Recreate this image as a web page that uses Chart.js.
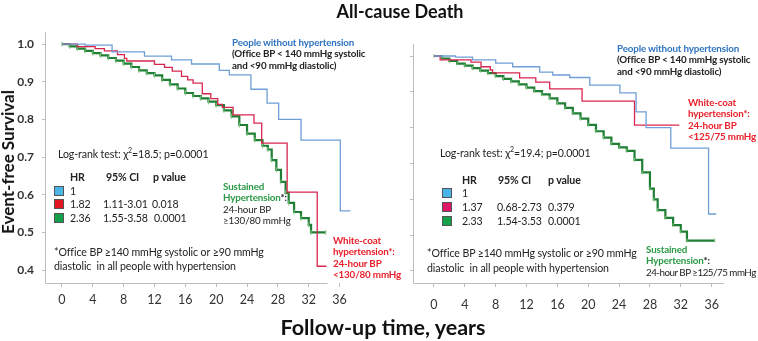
<!DOCTYPE html>
<html>
<head>
<meta charset="utf-8">
<script src="https://cdn.jsdelivr.net/npm/chart.js@4.4.1/dist/chart.umd.min.js"></script>
<style>
  body { margin: 0; background: #fff; }
  #wrap { position: relative; width: 758px; height: 341px; overflow: hidden;
          font-family: Lato, "Open Sans", sans-serif; color: #222; }
  canvas { position: absolute; top: 0; }
  .t { position: absolute; white-space: nowrap; }
  .sm { font-size: 9.8px; line-height: 11.3px; font-weight: bold; letter-spacing: -0.15px; }
  .blue { color: #2f74c0; }
  .red { color: #e8202a; }
  .green { color: #2a9a46; }
  .blk { color: #222; }
  .reg { font-weight: normal; }
  .txt { font-size: 10.6px; line-height: 13px; color: #222; letter-spacing: -0.1px; }
  .hd { font-weight: bold; }
  .sq { position: absolute; width: 8px; height: 8px; border: 1px solid #555; }
</style>
</head>
<body>
<div id="wrap">
  <canvas id="leftChart" width="380" height="341" style="left:0;width:380px;height:341px"></canvas>
  <canvas id="rightChart" width="378" height="341" style="left:380px;width:378px;height:341px"></canvas>

  <div class="t" style="left:0;width:800px;text-align:center;top:0;font-size:18px;line-height:22px;font-weight:bold;color:#111">All-cause Death</div>
  <div class="t" style="left:0;width:766px;text-align:center;top:313px;font-size:21.5px;line-height:28px;font-weight:bold;color:#111">Follow-up time, years</div>
  <div class="t" style="left:8px;top:162px;transform:translate(-50%,-50%) rotate(-90deg);font-size:17px;line-height:20px;font-weight:bold;color:#111">Event-free Survival</div>

  <!-- left panel annotations -->
  <div class="t sm" style="left:232px;top:37px">
    <div class="blue">People without hypertension</div>
    <div class="blk">(Office BP &lt; 140 mmHg systolic</div>
    <div class="blk">and &lt;90 mmHg diastolic)</div>
  </div>
  <div class="t txt" style="left:58px;top:148px">Log-rank test: χ<sup style="font-size:7px;line-height:0">2</sup>=18.5; p=0.0001</div>
  <div class="t txt hd" style="left:70px;top:171px">HR</div>
  <div class="t txt hd" style="left:106px;top:171px">95% CI</div>
  <div class="t txt hd" style="left:153px;top:171px">p value</div>
  <div class="sq" style="left:54px;top:186px;background:#4bb4e6"></div>
  <div class="sq" style="left:54px;top:199px;background:#e3161f"></div>
  <div class="sq" style="left:54px;top:213px;background:#14a04a"></div>
  <div class="t txt" style="left:70px;top:185px">1</div>
  <div class="t txt" style="left:70px;top:198px">1.82</div>
  <div class="t txt" style="left:103px;top:198px">1.11-3.01</div>
  <div class="t txt" style="left:152px;top:198px">0.018</div>
  <div class="t txt" style="left:70px;top:212px">2.36</div>
  <div class="t txt" style="left:103px;top:212px">1.55-3.58</div>
  <div class="t txt" style="left:154px;top:212px">0.0001</div>
  <div class="t txt" style="left:54px;top:246px">*Office BP ≥140 mmHg systolic or ≥90 mmHg</div>
  <div class="t txt" style="left:54px;top:260px">diastolic&nbsp; in all people with hypertension</div>
  <div class="t sm" style="left:223px;top:181px">
    <div class="green">Sustained</div>
    <div class="green">Hypertension<span class="blk">*:</span></div>
    <div class="blk reg">24-hour BP</div>
    <div class="blk reg">≥130/80 mmHg</div>
  </div>
  <div class="t sm red" style="left:333px;top:235px">
    <div>White-coat</div>
    <div>hypertension*:</div>
    <div>24-hour BP</div>
    <div>&lt;130/80 mmHg</div>
  </div>

  <!-- right panel annotations -->
  <div class="t sm" style="left:617px;top:43px">
    <div class="blue">People without hypertension</div>
    <div class="blk">(Office BP &lt; 140 mmHg systolic</div>
    <div class="blk">and &lt;90 mmHg diastolic)</div>
  </div>
  <div class="t txt" style="left:440px;top:147px">Log-rank test: χ<sup style="font-size:7px;line-height:0">2</sup>=19.4; p=0.0001</div>
  <div class="t txt hd" style="left:462px;top:174px">HR</div>
  <div class="t txt hd" style="left:498px;top:174px">95% CI</div>
  <div class="t txt hd" style="left:548px;top:174px">p value</div>
  <div class="sq" style="left:442px;top:188px;background:#4bb4e6"></div>
  <div class="sq" style="left:442px;top:202px;background:#e0166a"></div>
  <div class="sq" style="left:442px;top:216px;background:#14a04a"></div>
  <div class="t txt" style="left:462px;top:187px">1</div>
  <div class="t txt" style="left:462px;top:201px">1.37</div>
  <div class="t txt" style="left:497px;top:201px">0.68-2.73</div>
  <div class="t txt" style="left:548px;top:201px">0.379</div>
  <div class="t txt" style="left:462px;top:215px">2.33</div>
  <div class="t txt" style="left:497px;top:215px">1.54-3.53</div>
  <div class="t txt" style="left:548px;top:215px">0.0001</div>
  <div class="t txt" style="left:427px;top:247px">*Office BP ≥140 mmHg systolic or ≥90 mmHg</div>
  <div class="t txt" style="left:427px;top:262px">diastolic&nbsp; in all people with hypertension</div>
  <div class="t sm red" style="left:688px;top:97px">
    <div>White-coat</div>
    <div>hypertension*:</div>
    <div>24-hour BP</div>
    <div>&lt;125/75 mmHg</div>
  </div>
  <div class="t sm" style="left:646px;top:244px">
    <div class="green">Sustained</div>
    <div class="green">Hypertension<span class="blk">*:</span></div>
    <div class="blk reg" style="letter-spacing:-0.5px">24-hour BP ≥125/75 mmHg</div>
  </div>
</div>

<script>
// ---- data (years, survival) ----
const xTicks = [0, 4, 8, 12, 16, 20, 24, 28, 32, 36];
const yTicks = [0.4, 0.5, 0.6, 0.7, 0.8, 0.9, 1.0];

// left panel: 24-hour BP 130/80
const leftBlueT = [0, 3, 6.5, 10.7, 14.2, 16.8, 20.4, 21.7, 24.5, 26.6, 28.1, 31, 36.1, 37.4];
const leftBlueS = [1.0, 0.997, 0.979, 0.968, 0.958, 0.947, 0.93, 0.918, 0.88, 0.843, 0.80, 0.745, 0.557, 0.557];

const leftRedT = [0, 2, 4.3, 5.5, 7.2, 8.1, 8.4, 12, 13.3, 14.3, 15.5, 16.3, 17, 18.2, 19.3, 20.2, 20.8, 22.2, 24.9, 25.9, 29.2, 33.1, 34.3];
const leftRedS = [1.0, 0.993, 0.988, 0.982, 0.972, 0.962, 0.955, 0.946, 0.938, 0.928, 0.914, 0.905, 0.896, 0.868, 0.855, 0.84, 0.832, 0.812, 0.79, 0.737, 0.607, 0.41, 0.41];

const leftGreenT = [0, 1, 2, 3, 4, 5, 6, 7, 8, 9, 10, 11, 12, 13, 14, 15, 16, 17, 18, 19, 20, 21, 22, 23, 24, 25, 26, 26.7, 27.2, 27.8, 28.4, 29, 29.4, 30.1, 31, 32, 32.3, 34.2];
const leftGreenS = [1.0, 0.994, 0.988, 0.982, 0.976, 0.97, 0.963, 0.956, 0.948, 0.939, 0.93, 0.923, 0.917, 0.905, 0.893, 0.882, 0.87, 0.862, 0.856, 0.847, 0.838, 0.824, 0.808, 0.785, 0.762, 0.745, 0.73, 0.72, 0.692, 0.666, 0.634, 0.605, 0.578, 0.554, 0.538, 0.52, 0.50, 0.50];

// right panel: 24-hour BP 125/75
const rightBlueT = [0, 2.8, 5, 8, 10.2, 13.7, 15.4, 17.6, 20.2, 24.1, 26.2, 27.5, 30.7, 35.6, 36.6];
const rightBlueS = [1.0, 0.997, 0.989, 0.98, 0.97, 0.955, 0.947, 0.94, 0.919, 0.897, 0.844, 0.80, 0.743, 0.559, 0.559];

const rightRedT = [0, 0.8, 4.8, 6.1, 7.3, 7.6, 11.1, 13.2, 15, 19.2, 26, 31.8];
const rightRedS = [1.0, 0.989, 0.983, 0.97, 0.961, 0.953, 0.939, 0.927, 0.908, 0.874, 0.807, 0.807];

const rightGreenT = [0, 1, 2, 3, 4, 5, 6, 7, 8, 9, 10, 11, 12, 13, 14, 15, 16, 17, 18, 19, 20, 21, 22, 23, 24, 25, 26, 27, 28, 28.5, 29, 30, 31, 32, 32.8, 36.4];
const rightGreenS = [1.0, 0.993, 0.986, 0.979, 0.973, 0.966, 0.959, 0.952, 0.944, 0.936, 0.929, 0.921, 0.912, 0.902, 0.893, 0.882, 0.868, 0.855, 0.84, 0.825, 0.808, 0.79, 0.772, 0.755, 0.745, 0.735, 0.71, 0.675, 0.63, 0.60, 0.57, 0.548, 0.528, 0.51, 0.485, 0.485];

const BLUE = '#6f9fd6';
const RED = '#d8264f';
const GREEN = '#1f7f34';
const CENSOR = '#7cc47f';
const AXIS = '#bdbdbd';

function pts(T, S) {
    return T.map((t, i) => ({ x: t, y: S[i] }));
}

// draws the two axis lines (x axis stops short of the last tick, like the original)
const axisLines = {
    id: 'axisLines',
    beforeDatasetsDraw(chart, args, opts) {
        const { ctx, chartArea } = chart;
        const xs = chart.scales.x;
        ctx.save();
        ctx.strokeStyle = AXIS;
        ctx.lineWidth = 1;
        ctx.beginPath();
        ctx.moveTo(chartArea.left + 0.5, chartArea.top);
        ctx.lineTo(chartArea.left + 0.5, chartArea.bottom + 0.5);
        ctx.lineTo(xs.getPixelForValue(opts.xEnd), chartArea.bottom + 0.5);
        ctx.stroke();
        ctx.restore();
    }
};

function kmLine(T, S, color, width, marks) {
    return {
        data: pts(T, S),
        borderColor: color,
        borderWidth: width,
        stepped: 'before',
        fill: false,
        pointStyle: 'line',
        rotation: 90,
        pointRadius: marks,
        pointBorderColor: marks ? CENSOR : color,
        pointBorderWidth: 1,
        pointHoverRadius: 0
    };
}

function makeChart(id, o) {
    return new Chart(document.getElementById(id), {
        type: 'line',
        data: { datasets: o.datasets },
        options: {
            responsive: false,
            animation: false,
            events: [],
            layout: { padding: o.padding },
            plugins: { legend: { display: false }, tooltip: { enabled: false }, axisLines: { xEnd: o.xEnd } },
            scales: {
                x: {
                    type: 'linear', min: o.xMin, max: o.xMax,
                    afterBuildTicks: s => { s.ticks = xTicks.map(v => ({ value: v })); },
                    afterFit: s => { s.height = 58; },
                    ticks: { color: '#333', font: { family: 'Lato', size: 12.5 }, padding: o.xPad, maxRotation: 0, autoSkip: false },
                    grid: { drawOnChartArea: false, drawTicks: true, tickLength: 4, color: AXIS },
                    border: { display: false }
                },
                y: {
                    type: 'linear', min: o.yMin, max: o.yMax,
                    afterBuildTicks: s => { s.ticks = yTicks.map(v => ({ value: v })); },
                    afterFit: s => { s.width = o.yWidth; },
                    ticks: { display: o.yLabels, color: '#333', font: { family: 'Lato', size: 12, weight: 'bold' }, padding: 8,
                             callback: v => v.toFixed(1) },
                    grid: { drawOnChartArea: false, drawTicks: true, tickLength: 3, color: AXIS },
                    border: { display: false }
                }
            }
        },
        plugins: [axisLines]
    });
}

makeChart('leftChart', {
    padding: { left: 0, top: 32, right: 25, bottom: 0 },
    xMin: -2.2, xMax: 38, xEnd: 34.45, xPad: 5,
    yMin: 0.3655, yMax: 1.032, yWidth: 45, yLabels: true,
    datasets: [
        kmLine(leftBlueT, leftBlueS, BLUE, 1.3, 0),
        kmLine(leftRedT, leftRedS, RED, 1.3, 0),
        kmLine(leftGreenT, leftGreenS, GREEN, 2.2, 2.5)
    ]
});

makeChart('rightChart', {
    padding: { left: 0, top: 44, right: 34, bottom: 0 },
    xMin: -2.72, xMax: 37.6, xEnd: 37.6, xPad: 10,
    yMin: 0.3665, yMax: 1.0335, yWidth: 33, yLabels: false,
    datasets: [
        kmLine(rightBlueT, rightBlueS, BLUE, 1.3, 0),
        kmLine(rightRedT, rightRedS, RED, 1.3, 0),
        kmLine(rightGreenT, rightGreenS, GREEN, 2.2, 2)
    ]
});
</script>
</body>
</html>
